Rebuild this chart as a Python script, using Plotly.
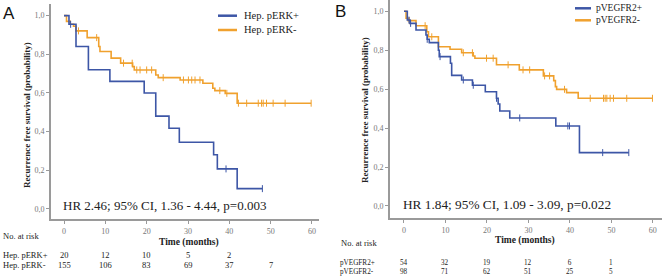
import plotly.graph_objects as go

W, H = 669, 277
BLUE = "#3d56a6"
ORANGE = "#f0a12e"
GRAY = "#9a9a9a"

# ---------- Data ----------
# Panel A: Hep. pERK+ / Hep. pERK-
a_pos_t = [0, 1.2, 2.9, 5.9, 11.1, 19.4, 22.2, 25.4, 27.9, 36.2, 37.1, 41.9, 48.0]
a_pos_s = [1.0, 0.955, 0.84, 0.72, 0.66, 0.60, 0.48, 0.417, 0.345, 0.28, 0.207, 0.105, 0.105]
a_pos_cens = [1.6, 39.2, 48.0]

a_neg_t = [0, 0.6, 1.5, 2.3, 2.9, 5.6, 8.4, 8.7, 11.4, 13.7, 16.6, 17.0, 22.2, 22.8, 28.1,
           33.6, 36.0, 36.5, 39.0, 41.9, 59.8]
a_neg_s = [1.0, 0.97, 0.955, 0.945, 0.921, 0.886, 0.84, 0.814, 0.78, 0.754, 0.736, 0.719,
           0.693, 0.679, 0.667, 0.650, 0.624, 0.612, 0.598, 0.547, 0.547]
a_neg_cens = [3.5, 7.9, 14.4, 16.5, 17.6, 18.4, 20.0, 21.2, 24.0, 28.9, 30.1, 30.9, 31.7,
              32.9, 37.7, 39.4, 42.2, 44.2, 47.0, 47.8, 48.2, 49.0, 50.6, 53.5, 59.8]

# Panel B: pVEGFR2+ / pVEGFR2-
b_pos_t = [0, 0.8, 1.45, 2.9, 5.3, 5.6, 6.1, 8.3, 8.5, 11.2, 11.5, 13.9, 16.5, 19.6, 22.3,
           22.7, 23.1, 25.5, 36.6, 42.3, 54.2]
b_pos_s = [1.0, 0.955, 0.938, 0.904, 0.878, 0.856, 0.839, 0.80, 0.767, 0.733, 0.671, 0.647,
           0.62, 0.587, 0.553, 0.524, 0.488, 0.452, 0.411, 0.274, 0.274]
b_pos_cens = [1.2, 1.6, 5.6, 8.7, 14.3, 16.7, 22.3, 27.9, 39.5, 39.9, 47.9, 54.2]

b_neg_t = [0, 0.5, 1.0, 2.9, 5.5, 5.9, 8.3, 11.1, 13.9, 16.7, 17.1, 22.3, 27.8, 33.6, 36.1,
           36.5, 36.8, 39.2, 42.0, 59.9]
b_neg_s = [1.0, 0.964, 0.952, 0.926, 0.895, 0.869, 0.818, 0.805, 0.787, 0.770, 0.759, 0.725,
           0.699, 0.668, 0.644, 0.613, 0.599, 0.582, 0.553, 0.553]
b_neg_cens = [1.3, 5.1, 6.7, 14.3, 16.5, 19.9, 21.5, 25.1, 28.7, 30.3, 33.9, 35.1, 38.7,
              44.9, 48.1, 48.5, 48.9, 49.7, 50.5, 53.7, 59.9]

risk_times = [0, 10, 20, 30, 40, 50]
a_risk_pos = ["20", "12", "10", "5", "2", ""]
a_risk_neg = ["155", "106", "83", "69", "37", "7"]
b_risk_pos = ["54", "32", "19", "12", "6", "1"]
b_risk_neg = ["98", "71", "62", "51", "25", "5"]

a_labels = ["Hep. pERK+", "Hep. pERK-"]
b_labels = ["pVEGFR2+", "pVEGFR2-"]
a_hr = "HR 2.46; 95% CI, 1.36 - 4.44, p=0.003"
b_hr = "HR 1.84; 95% CI, 1.09 - 3.09, p=0.022"

y_ticks = [0, 0.2, 0.4, 0.6, 0.8, 1.0]
y_ticktext = ["0,0", "0,2", "0,4", "0,6", "0,8", "1,0"]
x_ticks = [0, 10, 20, 30, 40, 50, 60]


def surv_at(ts, ss, t):
    v = ss[0]
    for ti, si in zip(ts, ss):
        if ti <= t:
            v = si
    return v


fig = go.Figure()


def add_curve(ts, ss, cens, color, xa, ya):
    fig.add_trace(go.Scatter(x=ts, y=ss, mode="lines", line=dict(color=color, width=1.6, shape="hv"),
                             xaxis=xa, yaxis=ya, showlegend=False, hoverinfo="skip"))
    fig.add_trace(go.Scatter(x=cens, y=[surv_at(ts, ss, c) for c in cens], mode="markers",
                             marker=dict(symbol="line-ns", size=5, line=dict(color=color, width=1)),
                             xaxis=xa, yaxis=ya, showlegend=False, hoverinfo="skip"))


add_curve(a_neg_t, a_neg_s, a_neg_cens, ORANGE, "x", "y")
add_curve(a_pos_t, a_pos_s, a_pos_cens, BLUE, "x", "y")
add_curve(b_neg_t, b_neg_s, b_neg_cens, ORANGE, "x2", "y2")
add_curve(b_pos_t, b_pos_s, b_pos_cens, BLUE, "x2", "y2")

SERIF = "Liberation Serif"
tickfont = dict(family=SERIF, size=8, color="#777777")
common_x = dict(showline=True, linecolor=GRAY, linewidth=2, ticks="outside", ticklen=3,
                tickcolor=GRAY, tickvals=x_ticks, tickfont=tickfont, showgrid=False,
                zeroline=False, fixedrange=True)
common_y = dict(showline=True, linecolor=GRAY, linewidth=2, ticks="outside", ticklen=3,
                tickcolor=GRAY, tickvals=y_ticks, ticktext=y_ticktext, tickfont=tickfont,
                showgrid=False, zeroline=False, fixedrange=True)

fig.update_layout(
    width=W, height=H, margin=dict(l=0, r=0, t=0, b=0),
    paper_bgcolor="white", plot_bgcolor="white", showlegend=False,
    xaxis=dict(common_x, domain=[51 / W, 319 / W], range=[-3.15, 61.7], anchor="y"),
    yaxis=dict(common_y, domain=[58 / H, 273 / H], range=[-0.052, 1.06], anchor="x"),
    xaxis2=dict(common_x, domain=[390 / W, 662 / W], range=[-3.37, 62.2], anchor="y2"),
    yaxis2=dict(common_y, domain=[59 / H, 1.0], range=[-0.062, 1.058], anchor="x2"),
)

ann = []
shapes = []


def px_text(x, y, text, size, xanchor="left", bold=False, family=SERIF, color="#222222", angle=0):
    ann.append(dict(x=x / W, y=1 - y / H, xref="paper", yref="paper", text=("<b>%s</b>" % text) if bold else text,
                    showarrow=False, xanchor=xanchor, yanchor="middle", textangle=angle,
                    font=dict(family=family, size=size, color=color)))


# panel letters
px_text(1, 13, "A", 17, family="Liberation Sans", color="#111111")
px_text(333, 12, "B", 17, family="Liberation Sans", color="#111111")

# legends
for i, (lab, col) in enumerate(zip(a_labels, [BLUE, ORANGE])):
    y = 15.7 + i * 14.3
    shapes.append(dict(type="line", xref="paper", yref="paper", x0=218 / W, x1=237 / W,
                       y0=1 - y / H, y1=1 - y / H, line=dict(color=col, width=2.5)))
    px_text(242, y, lab, 10.5)
for i, (lab, col) in enumerate(zip(b_labels, [BLUE, ORANGE])):
    y = 8.3 + i * 12
    shapes.append(dict(type="line", xref="paper", yref="paper", x0=575 / W, x1=591 / W,
                       y0=1 - y / H, y1=1 - y / H, line=dict(color=col, width=2.5)))
    px_text(594, y, lab, 9.5)

# y-axis titles
px_text(27, 115, "Recurrence free survival (probability)", 9, xanchor="center", bold=True, angle=-90)
px_text(365, 110, "Recurrence free survival (probability)", 9, xanchor="center", bold=True, angle=-90)

# HR texts
px_text(61, 205, a_hr, 13)
px_text(401, 204, b_hr, 13.3)

# x-axis titles
px_text(189, 242, "Time (months)", 9.5, xanchor="center", bold=True)
px_text(525, 240, "Time (months)", 9.5, xanchor="center", bold=True)

# at-risk tables
px_text(1, 236, "No. at risk", 8.5)
px_text(1, 255, a_labels[0], 8.5)
px_text(1, 265, a_labels[1], 8.5)
px_text(339, 243, "No. at risk", 8.5)
ann.append(dict(x=339 / W, y=1 - 267 / H, xref="paper", yref="paper",
                text=b_labels[0] + "<br>" + b_labels[1], showarrow=False, align="left",
                xanchor="left", yanchor="middle", borderpad=0,
                font=dict(family=SERIF, size=7.2, color="#222222")))


def risk_row(xref, vals, ypx):
    for t, v in zip(risk_times, vals):
        if v:
            ann.append(dict(x=t, y=1 - ypx / H, xref=xref, yref="paper", text=v, showarrow=False,
                            xanchor="center", yanchor="middle",
                            font=dict(family=SERIF, size=8.5, color="#222222")))


risk_row("x", a_risk_pos, 255)
risk_row("x", a_risk_neg, 265)
for t, v1, v2 in zip(risk_times, b_risk_pos, b_risk_neg):
    ann.append(dict(x=t, y=1 - 267 / H, xref="x2", yref="paper", text=v1 + "<br>" + v2,
                    showarrow=False, xanchor="center", yanchor="middle", borderpad=0,
                    font=dict(family=SERIF, size=7.2, color="#222222")))

fig.update_layout(annotations=ann, shapes=shapes)
fig.write_html("out.html", config={"displayModeBar": False},
               post_script="document.body.style.margin='0';document.body.style.overflow='hidden';")
